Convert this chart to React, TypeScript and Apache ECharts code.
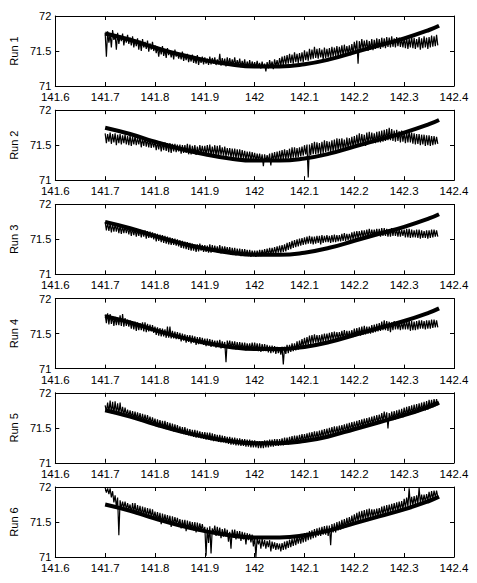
import React, { useEffect, useRef } from "react";
import * as echarts from "echarts";

const runNames = ["Run 1", "Run 2", "Run 3", "Run 4", "Run 5", "Run 6"];

// smooth reference track
const curveX = [141.7, 141.75, 141.8, 141.85, 141.9, 141.95, 142.0, 142.05, 142.1, 142.15, 142.2, 142.25, 142.3, 142.35, 142.37];
const curveY = [71.75, 71.66, 71.55, 71.45, 71.37, 71.31, 71.28, 71.28, 71.31, 71.38, 71.48, 71.58, 71.68, 71.8, 71.86];

// measured (noisy) tracks: every 0.005 from 141.700 the trace swings to a
// high value, then half a step later to a low value
const SAMPLE_X0 = 141.7;
const SAMPLE_DX = 0.005;

const run1Hi = [
  71.76, 71.78, 71.74, 71.8, 71.73, 71.76, 71.72, 71.75, 71.7, 71.73,
  71.69, 71.71, 71.66, 71.68, 71.65, 71.67, 71.63, 71.65, 71.61, 71.63,
  71.58, 71.56, 71.55, 71.57, 71.52, 71.54, 71.51, 71.5, 71.52, 71.48,
  71.47, 71.49, 71.45, 71.46, 71.43, 71.45, 71.41, 71.44, 71.4, 71.42,
  71.41, 71.39, 71.42, 71.4, 71.41, 71.38, 71.46, 71.4, 71.39, 71.41,
  71.4, 71.38, 71.41, 71.37, 71.39, 71.36, 71.38, 71.35, 71.37, 71.35,
  71.34, 71.36, 71.33, 71.35, 71.32, 71.34, 71.37, 71.35, 71.38, 71.37,
  71.4, 71.42, 71.43, 71.44, 71.46, 71.45, 71.48, 71.46, 71.47, 71.48,
  71.51, 71.49, 71.53, 71.52, 71.56, 71.53, 71.54, 71.52, 71.55, 71.53,
  71.54, 71.56, 71.55, 71.57, 71.56, 71.58, 71.59, 71.57, 71.58, 71.6,
  71.63, 71.65, 71.64, 71.67, 71.65, 71.66, 71.64, 71.67, 71.66, 71.68,
  71.67, 71.69, 71.68, 71.7, 71.69, 71.71, 71.68, 71.7, 71.69, 71.68,
  71.69, 71.7, 71.68, 71.71, 71.69, 71.67, 71.7, 71.68, 71.71, 71.69,
  71.7, 71.72, 71.71, 71.73,
];
const run1Lo = [
  71.42, 71.62, 71.55, 71.66, 71.52, 71.6, 71.64, 71.58, 71.62, 71.6,
  71.58, 71.55, 71.57, 71.52, 71.5, 71.55, 71.53, 71.49, 71.52, 71.5,
  71.47, 71.42, 71.45, 71.43, 71.4, 71.44, 71.41, 71.38, 71.42, 71.39,
  71.38, 71.36, 71.37, 71.34, 71.35, 71.33, 71.32, 71.3, 71.33, 71.31,
  71.32, 71.3, 71.31, 71.32, 71.3, 71.31, 71.29, 71.31, 71.28, 71.3,
  71.29, 71.3, 71.28, 71.29, 71.27, 71.28, 71.26, 71.27, 71.26, 71.27,
  71.26, 71.27, 71.25, 71.26, 71.21, 71.25, 71.27, 71.24, 71.28, 71.27,
  71.29, 71.3, 71.31, 71.32, 71.33, 71.32, 71.34, 71.33, 71.35, 71.34,
  71.37, 71.36, 71.38, 71.39, 71.4, 71.39, 71.41, 71.38, 71.4, 71.41,
  71.4, 71.42, 71.43, 71.42, 71.44, 71.43, 71.45, 71.46, 71.44, 71.46,
  71.5, 71.32, 71.51, 71.52, 71.51, 71.5, 71.52, 71.51, 71.53, 71.54,
  71.53, 71.55, 71.54, 71.56, 71.55, 71.56, 71.55, 71.57, 71.56, 71.55,
  71.54, 71.53, 71.55, 71.54, 71.53, 71.55, 71.52, 71.54, 71.55, 71.53,
  71.55, 71.56, 71.57, 71.58,
];

const run2Hi = [
  71.67, 71.66, 71.68, 71.66, 71.67, 71.65, 71.66, 71.64, 71.65, 71.63,
  71.64, 71.62, 71.63, 71.61, 71.62, 71.6, 71.61, 71.59, 71.59, 71.57,
  71.56, 71.55, 71.55, 71.54, 71.54, 71.53, 71.53, 71.52, 71.52, 71.51,
  71.51, 71.5, 71.5, 71.52, 71.51, 71.49, 71.5, 71.48, 71.5, 71.49,
  71.49, 71.5, 71.51, 71.48, 71.5, 71.49, 71.5, 71.47, 71.48, 71.46,
  71.46, 71.45, 71.45, 71.44, 71.44, 71.43, 71.42, 71.41, 71.41, 71.4,
  71.39, 71.38, 71.38, 71.37, 71.37, 71.36, 71.38, 71.39, 71.4, 71.41,
  71.42, 71.43, 71.44, 71.43, 71.45, 71.47, 71.47, 71.46, 71.47, 71.48,
  71.5, 71.51, 71.51, 71.53, 71.55, 71.54, 71.53, 71.55, 71.57, 71.56,
  71.55, 71.57, 71.58, 71.6, 71.59, 71.6, 71.58, 71.61, 71.6, 71.62,
  71.63, 71.65, 71.67, 71.66, 71.65, 71.68, 71.69, 71.68, 71.67, 71.69,
  71.7, 71.71, 71.72, 71.73, 71.75, 71.73, 71.71, 71.72, 71.7, 71.71,
  71.68, 71.69, 71.71, 71.68, 71.67, 71.66, 71.66, 71.65, 71.65, 71.64,
  71.64, 71.63, 71.63, 71.62,
];
const run2Lo = [
  71.53, 71.55, 71.52, 71.54, 71.5, 71.53, 71.51, 71.53, 71.51, 71.5,
  71.49, 71.51, 71.5, 71.51, 71.47, 71.49, 71.48, 71.47, 71.46, 71.47,
  71.43, 71.44, 71.41, 71.43, 71.42, 71.4, 71.39, 71.41, 71.4, 71.41,
  71.38, 71.39, 71.39, 71.37, 71.37, 71.38, 71.36, 71.37, 71.38, 71.37,
  71.36, 71.37, 71.35, 71.36, 71.35, 71.34, 71.36, 71.35, 71.34, 71.35,
  71.32, 71.33, 71.31, 71.32, 71.3, 71.31, 71.29, 71.3, 71.28, 71.29,
  71.27, 71.28, 71.26, 71.2, 71.26, 71.27, 71.21, 71.28, 71.27, 71.28,
  71.29, 71.3, 71.3, 71.31, 71.29, 71.32, 71.32, 71.33, 71.34, 71.35,
  71.37, 71.04, 71.36, 71.37, 71.37, 71.38, 71.37, 71.39, 71.4, 71.41,
  71.4, 71.41, 71.41, 71.43, 71.43, 71.44, 71.42, 71.45, 71.46, 71.47,
  71.47, 71.49, 71.5, 71.51, 71.49, 71.52, 71.52, 71.53, 71.53, 71.54,
  71.54, 71.55, 71.56, 71.57, 71.57, 71.56, 71.55, 71.56, 71.54, 71.55,
  71.53, 71.54, 71.54, 71.52, 71.51, 71.52, 71.5, 71.51, 71.49, 71.5,
  71.49, 71.5, 71.51, 71.52,
];

const run3Hi = [
  71.75, 71.74, 71.73, 71.72, 71.72, 71.71, 71.7, 71.69, 71.69, 71.68,
  71.67, 71.66, 71.65, 71.64, 71.64, 71.63, 71.63, 71.62, 71.61, 71.6,
  71.59, 71.58, 71.57, 71.56, 71.55, 71.54, 71.53, 71.52, 71.51, 71.5,
  71.49, 71.48, 71.47, 71.46, 71.45, 71.44, 71.43, 71.43, 71.44, 71.42,
  71.42, 71.41, 71.43, 71.42, 71.41, 71.4, 71.42, 71.4, 71.4, 71.39,
  71.39, 71.38, 71.38, 71.37, 71.37, 71.36, 71.36, 71.35, 71.35, 71.34,
  71.34, 71.34, 71.35, 71.35, 71.36, 71.37, 71.38, 71.38, 71.39, 71.4,
  71.41, 71.42, 71.43, 71.45, 71.46, 71.48, 71.49, 71.5, 71.51, 71.52,
  71.53, 71.54, 71.55, 71.54, 71.54, 71.55, 71.55, 71.56, 71.55, 71.56,
  71.55, 71.56, 71.57, 71.56, 71.56, 71.58, 71.59, 71.58, 71.58, 71.6,
  71.61, 71.62, 71.62, 71.63, 71.63, 71.64, 71.65, 71.64, 71.64, 71.65,
  71.65, 71.66, 71.66, 71.65, 71.64, 71.66, 71.66, 71.65, 71.65, 71.64,
  71.64, 71.65, 71.65, 71.64, 71.63, 71.64, 71.64, 71.63, 71.62, 71.63,
  71.63, 71.64, 71.64, 71.63,
];
const run3Lo = [
  71.63, 71.62, 71.6, 71.61, 71.61, 71.59, 71.58, 71.59, 71.59, 71.57,
  71.55, 71.56, 71.54, 71.55, 71.53, 71.54, 71.51, 71.52, 71.52, 71.5,
  71.47, 71.48, 71.46, 71.45, 71.44, 71.43, 71.42, 71.42, 71.41, 71.4,
  71.38, 71.37, 71.36, 71.35, 71.34, 71.34, 71.32, 71.33, 71.34, 71.32,
  71.32, 71.31, 71.31, 71.32, 71.32, 71.31, 71.3, 71.31, 71.31, 71.3,
  71.28, 71.29, 71.27, 71.28, 71.26, 71.27, 71.27, 71.26, 71.25, 71.26,
  71.25, 71.26, 71.26, 71.27, 71.27, 71.28, 71.28, 71.29, 71.3, 71.31,
  71.31, 71.32, 71.33, 71.35, 71.36, 71.38, 71.39, 71.4, 71.41, 71.42,
  71.43, 71.44, 71.44, 71.43, 71.44, 71.45, 71.43, 71.45, 71.46, 71.46,
  71.45, 71.46, 71.46, 71.47, 71.47, 71.48, 71.48, 71.49, 71.49, 71.5,
  71.5, 71.51, 71.52, 71.53, 71.53, 71.54, 71.54, 71.55, 71.55, 71.55,
  71.54, 71.55, 71.55, 71.54, 71.54, 71.55, 71.55, 71.54, 71.54, 71.55,
  71.53, 71.53, 71.52, 71.53, 71.53, 71.52, 71.51, 71.52, 71.52, 71.51,
  71.52, 71.53, 71.54, 71.54,
];

const run4Hi = [
  71.77, 71.79, 71.78, 71.75, 71.74, 71.73, 71.76, 71.78, 71.72, 71.7,
  71.69, 71.68, 71.67, 71.66, 71.65, 71.66, 71.66, 71.64, 71.63, 71.62,
  71.6, 71.59, 71.58, 71.57, 71.56, 71.6, 71.6, 71.54, 71.53, 71.52,
  71.51, 71.5, 71.49, 71.48, 71.48, 71.47, 71.46, 71.45, 71.45, 71.44,
  71.43, 71.43, 71.42, 71.41, 71.4, 71.4, 71.41, 71.39, 71.38, 71.4,
  71.4, 71.39, 71.39, 71.38, 71.38, 71.37, 71.37, 71.36, 71.36, 71.37,
  71.37, 71.36, 71.36, 71.35, 71.35, 71.34, 71.33, 71.33, 71.32, 71.31,
  71.3, 71.31, 71.31, 71.34, 71.34, 71.36, 71.36, 71.39, 71.4, 71.42,
  71.44, 71.45, 71.47, 71.48, 71.49, 71.48, 71.48, 71.49, 71.5, 71.5,
  71.51, 71.52, 71.53, 71.52, 71.52, 71.54, 71.55, 71.54, 71.54, 71.55,
  71.57, 71.58, 71.59, 71.6, 71.61, 71.6, 71.6, 71.62, 71.63, 71.64,
  71.65, 71.67, 71.69, 71.68, 71.67, 71.66, 71.68, 71.67, 71.66, 71.67,
  71.68, 71.69, 71.69, 71.68, 71.67, 71.68, 71.69, 71.69, 71.68, 71.69,
  71.69, 71.7, 71.7, 71.69,
];
const run4Lo = [
  71.65, 71.63, 71.64, 71.61, 71.62, 71.62, 71.61, 71.6, 71.61, 71.6,
  71.57, 71.56, 71.54, 71.55, 71.55, 71.53, 71.52, 71.53, 71.53, 71.51,
  71.48, 71.47, 71.46, 71.46, 71.44, 71.44, 71.43, 71.43, 71.42, 71.42,
  71.39, 71.4, 71.37, 71.38, 71.36, 71.37, 71.34, 71.35, 71.35, 71.34,
  71.32, 71.33, 71.31, 71.32, 71.3, 71.31, 71.29, 71.3, 71.09, 71.31,
  71.29, 71.3, 71.27, 71.28, 71.28, 71.27, 71.26, 71.27, 71.27, 71.26,
  71.26, 71.25, 71.24, 71.25, 71.25, 71.23, 71.22, 71.23, 71.21, 71.22,
  71.2, 71.06, 71.21, 71.22, 71.24, 71.25, 71.26, 71.27, 71.29, 71.31,
  71.32, 71.34, 71.35, 71.36, 71.37, 71.37, 71.36, 71.38, 71.39, 71.4,
  71.4, 71.41, 71.41, 71.42, 71.42, 71.43, 71.43, 71.44, 71.44, 71.45,
  71.46, 71.47, 71.47, 71.48, 71.49, 71.5, 71.5, 71.51, 71.52, 71.53,
  71.54, 71.55, 71.55, 71.54, 71.52, 71.55, 71.56, 71.56, 71.55, 71.56,
  71.56, 71.56, 71.54, 71.55, 71.55, 71.56, 71.57, 71.57, 71.56, 71.57,
  71.57, 71.58, 71.59, 71.59,
];

const run5Hi = [
  71.82, 71.86, 71.89, 71.87, 71.88, 71.85, 71.86, 71.8, 71.79, 71.76,
  71.75, 71.74, 71.73, 71.72, 71.71, 71.7, 71.69, 71.68, 71.66, 71.65,
  71.63, 71.62, 71.61, 71.6, 71.6, 71.58, 71.57, 71.56, 71.55, 71.54,
  71.52, 71.51, 71.51, 71.49, 71.48, 71.47, 71.47, 71.46, 71.45, 71.44,
  71.44, 71.43, 71.43, 71.42, 71.41, 71.4, 71.4, 71.39, 71.38, 71.37,
  71.37, 71.36, 71.36, 71.35, 71.35, 71.34, 71.34, 71.33, 71.33, 71.32,
  71.32, 71.31, 71.31, 71.31, 71.32, 71.32, 71.33, 71.33, 71.34, 71.34,
  71.34, 71.35, 71.36, 71.36, 71.37, 71.38, 71.39, 71.39, 71.4, 71.41,
  71.41, 71.42, 71.43, 71.44, 71.45, 71.45, 71.46, 71.47, 71.48, 71.49,
  71.5, 71.51, 71.52, 71.52, 71.53, 71.54, 71.55, 71.56, 71.57, 71.58,
  71.59, 71.6, 71.61, 71.62, 71.63, 71.64, 71.65, 71.66, 71.67, 71.68,
  71.69, 71.71, 71.73, 71.72, 71.71, 71.73, 71.74, 71.75, 71.76, 71.77,
  71.79, 71.8, 71.81, 71.82, 71.83, 71.84, 71.85, 71.86, 71.87, 71.88,
  71.9, 71.9, 71.91, 71.91,
];
const run5Lo = [
  71.73, 71.72, 71.71, 71.7, 71.7, 71.69, 71.69, 71.68, 71.67, 71.66,
  71.64, 71.63, 71.62, 71.61, 71.59, 71.59, 71.58, 71.57, 71.56, 71.55,
  71.52, 71.51, 71.5, 71.49, 71.48, 71.47, 71.46, 71.45, 71.44, 71.43,
  71.42, 71.41, 71.4, 71.39, 71.38, 71.37, 71.36, 71.36, 71.35, 71.34,
  71.33, 71.33, 71.32, 71.31, 71.31, 71.3, 71.29, 71.29, 71.28, 71.27,
  71.26, 71.26, 71.25, 71.25, 71.24, 71.24, 71.23, 71.23, 71.22, 71.22,
  71.22, 71.21, 71.21, 71.21, 71.22, 71.22, 71.23, 71.23, 71.24, 71.24,
  71.25, 71.25, 71.26, 71.26, 71.27, 71.27, 71.28, 71.29, 71.3, 71.3,
  71.31, 71.32, 71.32, 71.33, 71.33, 71.34, 71.35, 71.36, 71.37, 71.38,
  71.39, 71.4, 71.4, 71.41, 71.42, 71.43, 71.44, 71.45, 71.46, 71.47,
  71.48, 71.49, 71.5, 71.51, 71.52, 71.53, 71.54, 71.55, 71.56, 71.57,
  71.58, 71.59, 71.6, 71.49, 71.6, 71.61, 71.62, 71.63, 71.64, 71.65,
  71.67, 71.68, 71.69, 71.7, 71.71, 71.72, 71.73, 71.74, 71.75, 71.76,
  71.78, 71.79, 71.81, 71.82,
];

const run6Hi = [
  71.99, 71.98, 71.98, 71.94, 71.88, 71.85, 71.81, 71.79, 71.79, 71.77,
  71.75, 71.77, 71.77, 71.74, 71.73, 71.72, 71.71, 71.7, 71.69, 71.68,
  71.65, 71.64, 71.63, 71.62, 71.61, 71.6, 71.59, 71.58, 71.57, 71.56,
  71.54, 71.53, 71.53, 71.52, 71.51, 71.5, 71.5, 71.49, 71.48, 71.47,
  71.43, 71.42, 71.44, 71.41, 71.45, 71.43, 71.42, 71.4, 71.41, 71.39,
  71.36, 71.39, 71.39, 71.37, 71.37, 71.36, 71.35, 71.34, 71.33, 71.32,
  71.29, 71.28, 71.25, 71.26, 71.24, 71.23, 71.24, 71.22, 71.21, 71.2,
  71.19, 71.2, 71.22, 71.23, 71.25, 71.26, 71.28, 71.29, 71.31, 71.32,
  71.34, 71.35, 71.37, 71.38, 71.4, 71.41, 71.42, 71.43, 71.44, 71.45,
  71.45, 71.47, 71.48, 71.5, 71.51, 71.53, 71.54, 71.56, 71.57, 71.59,
  71.61, 71.63, 71.65, 71.66, 71.67, 71.68, 71.69, 71.68, 71.68, 71.69,
  71.7, 71.72, 71.73, 71.74, 71.75, 71.76, 71.77, 71.78, 71.79, 71.8,
  71.83, 71.85, 71.98, 71.86, 71.87, 71.88, 71.99, 71.89, 71.89, 71.9,
  71.93, 71.94, 71.95, 71.95,
];
const run6Lo = [
  71.92, 71.9, 71.85, 71.78, 71.72, 71.31, 71.69, 71.7, 71.67, 71.68,
  71.63, 71.64, 71.61, 71.62, 71.59, 71.6, 71.57, 71.58, 71.56, 71.55,
  71.53, 71.52, 71.47, 71.5, 71.49, 71.48, 71.43, 71.46, 71.47, 71.45,
  71.41, 71.42, 71.37, 71.4, 71.4, 71.38, 71.35, 71.37, 71.38, 71.36,
  71.02, 71.2, 71.05, 71.34, 71.3, 71.31, 71.27, 71.29, 71.29, 71.22,
  71.12, 71.28, 71.25, 71.27, 71.23, 71.25, 71.18, 71.24, 71.21, 71.15,
  71.0, 71.18, 71.12, 71.15, 71.12, 71.14, 71.08, 71.12, 71.1, 71.11,
  71.08, 71.1, 71.11, 71.13, 71.14, 71.16, 71.17, 71.19, 71.19, 71.21,
  71.22, 71.24, 71.25, 71.27, 71.28, 71.3, 71.3, 71.32, 71.32, 71.3,
  71.17, 71.35, 71.35, 71.38, 71.39, 71.41, 71.42, 71.44, 71.45, 71.47,
  71.49, 71.51, 71.51, 71.53, 71.53, 71.55, 71.55, 71.57, 71.57, 71.58,
  71.58, 71.6, 71.6, 71.62, 71.63, 71.64, 71.65, 71.66, 71.67, 71.68,
  71.7, 71.72, 71.73, 71.74, 71.75, 71.76, 71.77, 71.78, 71.78, 71.8,
  71.81, 71.83, 71.85, 71.86,
];

const runsHi = [run1Hi, run2Hi, run3Hi, run4Hi, run5Hi, run6Hi];
const runsLo = [run1Lo, run2Lo, run3Lo, run4Lo, run5Lo, run6Lo];

export default function App() {
  const ref = useRef<HTMLDivElement>(null);
  useEffect(() => {
    if (!ref.current) return;
    const chart = echarts.init(ref.current, null, { renderer: "svg" });
    const font = { fontFamily: "Liberation Sans", fontSize: 11.5, color: "#000" };
    const lineStyle = { color: "#000", width: 1 };
    const grids: any[] = [];
    const xAxes: any[] = [];
    const yAxes: any[] = [];
    const series: any[] = [];
    runsHi.forEach((hiVals, i) => {
      const loVals = runsLo[i];
      const top = 16 + i * 94.2;
      grids.push({ left: 42, width: 412, top, height: 70 });
      const xBase = {
        type: "value",
        gridIndex: i,
        min: 141.6,
        max: 142.4,
        interval: 0.1,
        axisLine: { show: true, onZero: false, lineStyle },
        axisTick: { show: true, inside: true, length: 4, lineStyle },
        splitLine: { show: false },
      };
      xAxes.push({
        ...xBase,
        position: "bottom",
        axisLabel: {
          ...font,
          margin: 5,
          showMinLabel: true,
          showMaxLabel: true,
          formatter: (v: number) => String(+v.toFixed(1)),
        },
      });
      xAxes.push({ ...xBase, position: "top", axisLabel: { show: false } });
      const yBase = {
        type: "value",
        gridIndex: i,
        min: 71,
        max: 72,
        interval: 0.5,
        axisLine: { show: true, onZero: false, lineStyle },
        axisTick: { show: true, inside: true, length: 4, lineStyle },
        splitLine: { show: false },
      };
      yAxes.push({
        ...yBase,
        position: "left",
        name: runNames[i],
        nameLocation: "middle",
        nameGap: 32,
        nameTextStyle: { ...font, fontSize: 11 },
        axisLabel: {
          ...font,
          fontSize: 11,
          margin: 4,
          formatter: (v: number) => String(+v.toFixed(1)),
        },
      });
      yAxes.push({ ...yBase, position: "right", axisLabel: { show: false } });
      series.push({
        type: "line",
        xAxisIndex: 2 * i,
        yAxisIndex: 2 * i,
        data: curveX.map((x, k) => [x, curveY[k]]),
        smooth: true,
        symbol: "none",
        lineStyle: { color: "#000", width: 4 },
        silent: true,
      });
      const pts: number[][] = [];
      hiVals.forEach((y, k) => {
        pts.push([+(SAMPLE_X0 + SAMPLE_DX * k).toFixed(4), y]);
        pts.push([+(SAMPLE_X0 + SAMPLE_DX * (k + 0.5)).toFixed(4), loVals[k]]);
      });
      series.push({
        type: "line",
        xAxisIndex: 2 * i,
        yAxisIndex: 2 * i,
        data: pts,
        symbol: "none",
        lineStyle: { color: "#000", width: 1.2 },
        silent: true,
      });
    });
    chart.setOption({
      animation: false,
      backgroundColor: "#fff",
      grid: grids,
      xAxis: xAxes,
      yAxis: yAxes,
      series,
    });
    return () => chart.dispose();
  }, []);
  return (
    <div
      ref={ref}
      style={{ position: "fixed", left: 0, top: 0, width: 477, height: 583, background: "#fff" }}
    />
  );
}
